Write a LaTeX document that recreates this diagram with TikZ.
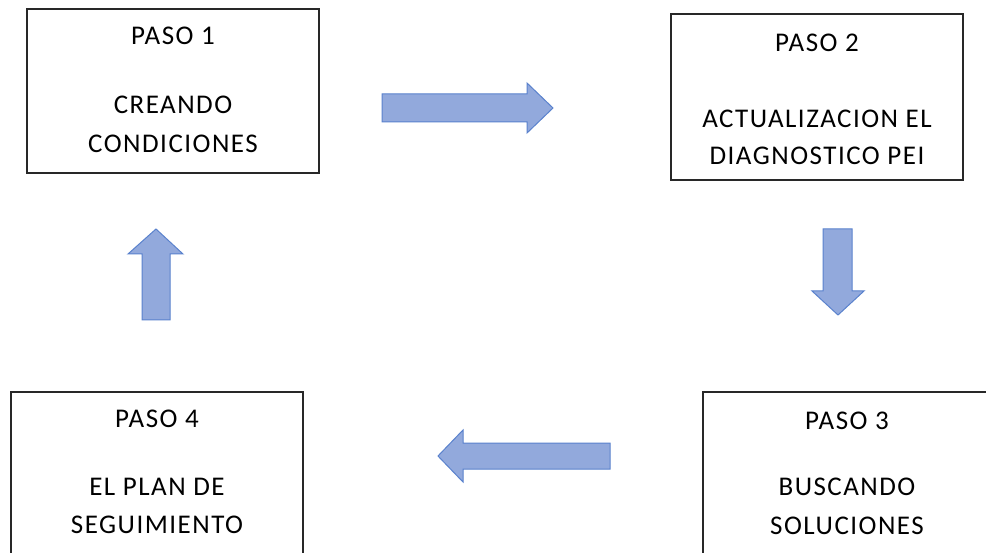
\documentclass[tikz,border=0pt]{standalone}
\usepackage{fontspec}
\setmainfont[LetterSpace=5.5]{Carlito}
\definecolor{arrfill}{RGB}{146,169,220}
\definecolor{arrline}{RGB}{90,130,205}
\definecolor{boxline}{RGB}{40,40,40}
\tikzset{
  stepbox/.style={draw=boxline, line width=1.5pt, fill=white, inner sep=0pt},
  steptext/.style={anchor=base, inner sep=0pt, font=\fontsize{27}{30}\selectfont, text=black},
  blockarrow/.style={fill=arrfill, draw=arrline, line width=1pt, line join=miter}
}
\begin{document}
\begin{tikzpicture}[x=1pt,y=-1pt]
\useasboundingbox (0,0) rectangle (986,553);
\clip (0,0) rectangle (986,553);
\fill[white] (0,0) rectangle (986,553);
% boxes
\node[stepbox, minimum width=292pt, minimum height=164pt] (b1) at (173,91) {};
\node[stepbox, minimum width=292pt, minimum height=166pt] (b2) at (817,97) {};
\node[stepbox, minimum width=288pt, minimum height=166pt] (b3) at (847,475) {};
\node[stepbox, minimum width=292pt, minimum height=166pt] (b4) at (157,475) {};
% texts
\node[steptext] (t1a) at (173,45) {PASO 1};
\node[steptext] (t1b) at (173,114) {CREANDO};
\node[steptext] (t1c) at (173,153) {CONDICIONES};
\node[steptext] (t2a) at (817,52) {PASO 2};
\node[steptext] (t2b) at (817,128) {ACTUALIZACION EL};
\node[steptext] (t2c) at (817,165) {DIAGNOSTICO PEI};
\node[steptext] (t3a) at (847,429) {PASO 3};
\node[steptext] (t3b) at (847,495) {BUSCANDO};
\node[steptext] (t3c) at (847,534) {SOLUCIONES};
\node[steptext] (t4a) at (157,428) {PASO 4};
\node[steptext] (t4b) at (157,495) {EL PLAN DE};
\node[steptext] (t4c) at (157,533) {SEGUIMIENTO};
% block arrows
\draw[blockarrow] (382,94) -- (527,94) -- (527,83) -- (553,108) -- (527,133) -- (527,122) -- (382,122) -- cycle;
\draw[blockarrow] (823,229) -- (852,229) -- (852,291) -- (864,291) -- (838,315) -- (812,291) -- (823,291) -- cycle;
\draw[blockarrow] (610,443) -- (463,443) -- (463,430) -- (438,456) -- (463,482) -- (463,469) -- (610,469) -- cycle;
\draw[blockarrow] (142,320) -- (142,254) -- (128,254) -- (156,229) -- (183,254) -- (170,254) -- (170,320) -- cycle;
\end{tikzpicture}
\end{document}
